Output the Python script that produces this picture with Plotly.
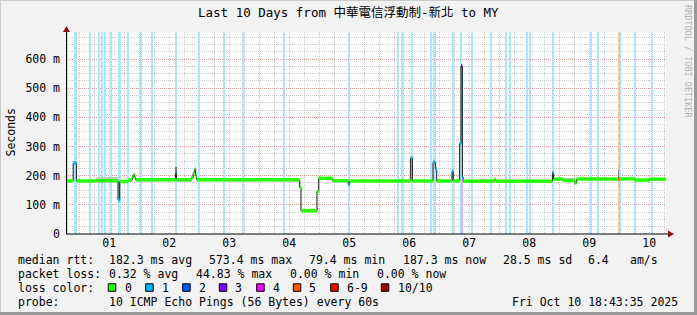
import plotly.graph_objects as go
from datetime import datetime, timedelta

START = datetime(2025, 9, 30, 18, 43, 35)
END = datetime(2025, 10, 10, 18, 43, 35)

# ---- median rtt (step series): start offset in hours, value in ms, loss count (of 10)
med_hours = [0.0, 2.88, 4.16, 12.16, 20.8, 21.48, 24.8, 26.48, 26.96, 27.48, 27.88,
             43.76, 44.16, 50.16, 50.88, 51.48, 51.88, 52.28, 93.48, 94.0, 100.4,
             101.08, 106.68, 112.88, 113.48, 137.88, 138.56, 146.8, 147.8, 148.28,
             154.4, 154.88, 157.48, 158.0, 158.56, 158.88, 171.28, 171.88, 194.56,
             195.08, 198.68, 203.48, 204.28, 220.8, 221.48, 227.48, 233.48]
med_ms = [182, 244, 182, 183, 117, 180, 185, 195, 204, 195, 186,
          212, 186, 193, 210, 223, 200, 186, 160, 80, 146,
          191, 183, 170, 182, 261, 182, 246, 223, 182,
          215, 182, 311, 576, 194, 181, 187, 181, 211,
          188, 184, 175, 189, 189, 189, 185, 188]
med_loss = [0, 1, 0, 0, 1, 0, 0, 0, 0, 0, 0,
            1, 0, 0, 0, 0, 0, 0, 0, 0, 0,
            0, 0, 1, 0, 1, 0, 1, 1, 0,
            1, 0, 1, 3, 1, 0, 0, 0, 1,
            0, 0, 0, 0, 5, 0, 0, 0]

# ---- smoke (ping spread) patches: start hour, duration hour, low ms, high ms, shade
smoke_hours = [12.16, 36.3, 43.76, 166.1, 198.68, 220.8]
smoke_dur = [8.6, 2.4, 0.4, 4.6, 4.8, 0.4]
smoke_lo = [183, 186, 212, 181, 184, 189]
smoke_hi = [195, 193, 231, 189, 193, 220]
smoke_shade = ['#c8c8c8', '#c8c8c8', '#707070', '#c8c8c8', '#c8c8c8', '#808080']

# ---- loss background periods: start hour, duration hour
loss1_hours = [0.28, 3.08, 9.48, 13.08, 14.28, 15.48, 17.68, 21.16, 24.68, 29.76,
               34.28, 43.88, 53.08, 62.92, 70.68, 87.08, 113.08, 132.56, 133.88,
               137.88, 145.6, 146.8, 154.68, 157.48, 162.0, 169.6, 175.76, 177.2,
               184.0, 185.36, 194.28, 209.48, 212.68, 221.6, 227.36, 234.28]
loss1_dur = [0.6, 1.2, 0.5, 0.5, 0.5, 0.5, 0.5, 0.72, 0.5, 0.5,
             0.5, 0.5, 0.5, 0.5, 0.5, 0.5, 0.5, 0.64, 1.32,
             0.92, 0.5, 1.36, 0.5, 1.08, 0.5, 0.5, 0.64, 0.68,
             0.5, 0.5, 0.92, 1.08, 0.5, 0.4, 0.5, 0.5]
loss3_hours = [158.0]
loss3_dur = [0.56]
loss3_top = [190]
loss5_hours = [220.8]
loss5_dur = [0.68]

y_ticks = [0, 100, 200, 300, 400, 500, 600]
y_tick_text = ['0', '100 m', '200 m', '300 m', '400 m', '500 m', '600 m']

loss_colors = {0: '#26ff00', 1: '#00b8ff', 2: '#0059ff', 3: '#7e00ff',
               4: '#ff00ff', 5: '#ff5500', 6: '#ff0000', 10: '#a10000'}
legend_labels = ['0', '1', '2', '3', '4', '5', '6-9', '10/10']
legend_keys = [0, 1, 2, 3, 4, 5, 6, 10]

stats_rows = [
    ["median rtt:", "182.3 ms avg", "573.4 ms max", "79.4 ms min", "187.3 ms now",
     "28.5 ms sd", "6.4", "am/s"],
    ["packet loss:", "0.32 % avg", "44.83 % max", "0.00 % min", "0.00 % now"],
]
probe_text = "10 ICMP Echo Pings (56 Bytes) every 60s"
stamp_text = "Fri Oct 10 18:43:35 2025"
title_text = "Last 10 Days from 中華電信浮動制-新北 to MY"

Y_TOP = 693
MONO = "DejaVu Sans Mono, Noto Sans CJK TC"

def t(h):
    return START + timedelta(hours=h)

def centers(hs, ds):
    return [t(h + d / 2) for h, d in zip(hs, ds)]

def widths(ds):
    return [d * 3600 * 1000 for d in ds]

fig = go.Figure()

# loss backgrounds
fig.add_trace(go.Bar(x=centers(loss1_hours, loss1_dur), y=[Y_TOP] * len(loss1_hours),
                     width=widths(loss1_dur), marker=dict(color='#ade5fb', line=dict(width=0)),
                     hoverinfo='skip', showlegend=False))
fig.add_trace(go.Bar(x=centers(loss5_hours, loss5_dur), y=[Y_TOP] * len(loss5_hours),
                     width=widths(loss5_dur), marker=dict(color='#fbbda3', line=dict(width=0)),
                     hoverinfo='skip', showlegend=False))
fig.add_trace(go.Bar(x=centers(loss3_hours, loss3_dur), y=loss3_top,
                     width=widths(loss3_dur), marker=dict(color='#d9b3ff', line=dict(width=0)),
                     hoverinfo='skip', showlegend=False))
# smoke
fig.add_trace(go.Bar(x=centers(smoke_hours, smoke_dur),
                     y=[hi - lo for lo, hi in zip(smoke_lo, smoke_hi)], base=smoke_lo,
                     width=widths(smoke_dur), marker=dict(color=smoke_shade, line=dict(width=0)),
                     hoverinfo='skip', showlegend=False))

# thin dark median line (steps)
ends = med_hours[1:] + [240.0]
fig.add_trace(go.Scatter(x=[t(h) for h in med_hours] + [END], y=med_ms + [med_ms[-1]],
                         mode='lines', line=dict(color='#111111', width=1, shape='hv'),
                         hoverinfo='skip', showlegend=False))
# colored median band per loss level
for lvl in sorted(set(med_loss)):
    xs, ys = [], []
    for h0, h1, v, l in zip(med_hours, ends, med_ms, med_loss):
        if l == lvl:
            xs += [t(h0), t(h1), None]
            ys += [v, v, None]
    fig.add_trace(go.Scatter(x=xs, y=ys, mode='lines',
                             line=dict(color=loss_colors[lvl], width=3.5),
                             hoverinfo='skip', showlegend=False))

L, T, W, H = 66, 32, 600, 202

def px(x):
    return (x - L) / W

def py(y):
    return (T + H - y) / H

shapes = []
ann = []

# frame
shapes.append(dict(type='line', xref='paper', yref='paper', x0=px(0), x1=px(697), y0=py(0.5), y1=py(0.5),
                   line=dict(color='#cbcbcb', width=1)))
shapes.append(dict(type='line', xref='paper', yref='paper', x0=px(0.5), x1=px(0.5), y0=py(0), y1=py(315),
                   line=dict(color='#cbcbcb', width=1)))
shapes.append(dict(type='line', xref='paper', yref='paper', x0=px(0), x1=px(697), y0=py(313.5), y1=py(313.5),
                   line=dict(color='#9a9a9a', width=3)))
shapes.append(dict(type='line', xref='paper', yref='paper', x0=px(695.5), x1=px(695.5), y0=py(0), y1=py(315),
                   line=dict(color='#9a9a9a', width=3)))

# axes lines + arrows
shapes.append(dict(type='line', xref='paper', yref='paper', x0=px(66), x1=px(670), y0=py(234), y1=py(234),
                   line=dict(color='#000000', width=1)))
shapes.append(dict(type='line', xref='paper', yref='paper', x0=px(66.5), x1=px(66.5), y0=py(234), y1=py(30),
                   line=dict(color='#000000', width=1)))
shapes.append(dict(type='path', xref='paper', yref='paper',
                   path=f"M {px(668)} {py(230.5)} L {px(674)} {py(234)} L {px(668)} {py(237.5)} Z",
                   fillcolor='#8b1010', line=dict(width=0)))
shapes.append(dict(type='path', xref='paper', yref='paper',
                   path=f"M {px(63)} {py(32)} L {px(66.5)} {py(26)} L {px(70)} {py(32)} Z",
                   fillcolor='#8b1010', line=dict(width=0)))

FS = 11.5
def text(x, y, s, anchor='left', size=FS, color='#000000', angle=0):
    ann.append(dict(x=px(x), y=py(y), xref='paper', yref='paper', text=s, showarrow=False,
                    xanchor=anchor, yanchor='middle', textangle=angle,
                    font=dict(family=MONO, size=size, color=color)))

text(348.5, 13, title_text, anchor='center', size=12.5)
ann.append(dict(x=px(10.5), y=py(133), xref='paper', yref='paper', text='Seconds', showarrow=False,
                xanchor='center', yanchor='middle', textangle=-90,
                font=dict(family=MONO, size=FS, color='#000000')))
ann.append(dict(x=px(688), y=py(61), xref='paper', yref='paper', text='RRDTOOL / TOBI OETIKER',
                showarrow=False, xanchor='center', yanchor='middle', textangle=90,
                font=dict(family=MONO, size=8.5, color='#b4b4b4')))

row1_x = [16, 107.3, 207.3, 307.3, 400.7, 500.7, 586, 628.3]
for x, s in zip(row1_x, stats_rows[0]):
    text(x, 259.5, s)
row2_x = [16, 107.3, 194, 287.5, 374.5]
for x, s in zip(row2_x, stats_rows[1]):
    text(x, 273.5, s)
text(16, 287.5, "loss color:")
sq_x = [108.3, 145.7, 182.7, 219.3, 256.7, 293.3, 330.7, 381.3]
lab_x = [122.7, 160, 197.3, 233.3, 270.7, 307.3, 345, 396]
for sx, lx, k, lab in zip(sq_x, lab_x, legend_keys, legend_labels):
    shapes.append(dict(type='rect', xref='paper', yref='paper', x0=px(sx), x1=px(sx + 7.5),
                       y0=py(291.3), y1=py(283.8), fillcolor=loss_colors[k],
                       line=dict(color='#000000', width=1)))
    text(lx, 287.5, lab)
text(16, 301.5, "probe:")
text(107.3, 301.5, probe_text)
text(680, 301.5, stamp_text, anchor='right')

fig.update_layout(
    width=697, height=315,
    margin=dict(l=L, r=697 - L - W, t=T, b=315 - T - H, pad=0),
    paper_bgcolor='#f2f2f2', plot_bgcolor='#ffffff',
    barmode='overlay', bargap=0, showlegend=False,
    shapes=shapes, annotations=ann,
    xaxis=dict(type='date', range=[START, END], tickformat='%d', ticklabelmode='period',
               dtick=86400000, tick0='2025-10-01', showgrid=True,
               gridcolor='rgba(222,110,110,0.55)', griddash='1px,1px', gridwidth=1,
               minor=dict(dtick=6 * 3600000, tick0='2025-10-01', showgrid=True,
                          gridcolor='rgba(170,170,170,0.6)', griddash='1px,1px', gridwidth=1),
               zeroline=False, showline=False, ticks='',
               tickfont=dict(family=MONO, size=FS, color='#000000')),
    yaxis=dict(range=[0, Y_TOP], tickmode='array', tickvals=y_ticks, ticktext=y_tick_text,
               showgrid=True, gridcolor='rgba(222,110,110,0.55)', griddash='1px,1px', gridwidth=1,
               minor=dict(tickmode='linear', tick0=0, dtick=25, showgrid=True,
                          gridcolor='rgba(170,170,170,0.6)', griddash='1px,1px', gridwidth=1),
               zeroline=False, showline=False, ticks='', ticklabelstandoff=5,
               tickfont=dict(family=MONO, size=FS, color='#000000')),
)

fig.write_html("out.html")
